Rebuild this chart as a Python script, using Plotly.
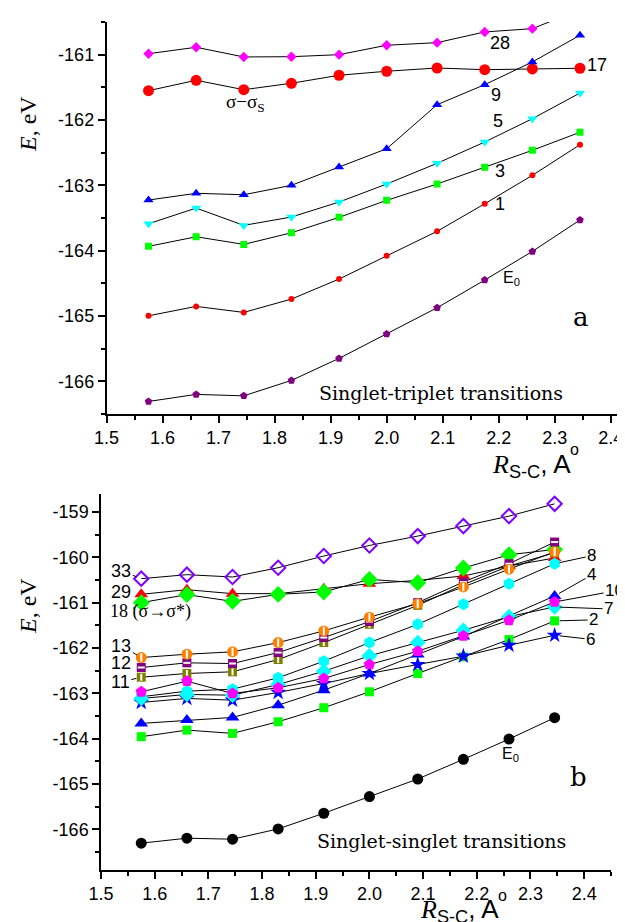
import plotly.graph_objects as go

W, H = 625, 922

# ---------------- data ----------------
R = [1.575, 1.66, 1.745, 1.83, 1.915, 2.0, 2.09, 2.175, 2.26, 2.345]

# panel a: singlet-triplet transitions
a_28 = [-160.985, -160.887, -161.035, -161.031, -161.0, -160.856, -160.816, -160.652, -160.602, -160.31]
a_17 = [-161.551, -161.392, -161.536, -161.438, -161.315, -161.254, -161.204, -161.23, -161.219, -161.208]
a_9 = [-163.225, -163.122, -163.144, -163.0, -162.72, -162.44, -161.766, -161.459, -161.112, -160.703]
a_5 = [-163.588, -163.348, -163.613, -163.485, -163.256, -162.98, -162.663, -162.337, -161.98, -161.587]
a_3 = [-163.934, -163.787, -163.904, -163.726, -163.49, -163.23, -162.98, -162.724, -162.464, -162.188]
a_1 = [-164.997, -164.853, -164.945, -164.741, -164.435, -164.078, -163.704, -163.282, -162.847, -162.378]
a_E0 = [-166.308, -166.2, -166.222, -165.986, -165.649, -165.277, -164.874, -164.45, -164.011, -163.531]

# panel b: singlet-singlet transitions
b_33 = [-160.469, -160.381, -160.432, -160.227, -159.969, -159.736, -159.529, -159.308, -159.088, -158.817]
b_29 = [-160.815, -160.712, -160.8, -160.8, -160.69, -160.58, -160.507, -160.41, -160.19, -160.013]
b_18 = [-160.998, -160.822, -160.97, -160.815, -160.762, -160.485, -160.558, -160.234, -159.941, -159.824]
b_13 = [-162.21, -162.137, -162.084, -161.88, -161.622, -161.318, -161.02, -160.652, -160.26, -159.875]
b_12 = [-162.43, -162.327, -162.342, -162.1, -161.769, -161.417, -160.998, -160.542, -160.139, -159.661]
b_11 = [-162.644, -162.562, -162.525, -162.254, -161.88, -161.476, -161.058, -160.602, -160.19, -159.897]
b_8 = [-163.076, -162.952, -162.908, -162.657, -162.291, -161.879, -161.476, -161.036, -160.58, -160.139]
b_4 = [-163.664, -163.591, -163.532, -163.261, -162.93, -162.562, -162.144, -161.747, -161.291, -160.851]
b_10 = [-162.966, -162.732, -163.003, -162.877, -162.673, -162.364, -162.071, -161.732, -161.388, -160.983]
b_7 = [-163.113, -163.025, -163.041, -162.805, -162.512, -162.173, -161.88, -161.608, -161.307, -161.093]
b_2 = [-163.957, -163.812, -163.884, -163.627, -163.318, -162.966, -162.562, -162.195, -161.813, -161.401]
b_6 = [-163.201, -163.113, -163.151, -162.981, -162.783, -162.562, -162.364, -162.181, -161.939, -161.719]
b_E0 = [-166.308, -166.198, -166.22, -165.993, -165.647, -165.279, -164.891, -164.457, -164.01, -163.538]

x_ticks = [1.5, 1.6, 1.7, 1.8, 1.9, 2.0, 2.1, 2.2, 2.3, 2.4]
x_ticktext = ["1.5", "1.6", "1.7", "1.8", "1.9", "2.0", "2.1", "2.2", "2.3", "2.4"]
a_yticks = [-166, -165, -164, -163, -162, -161]
b_yticks = [-166, -165, -164, -163, -162, -161, -160, -159]

# ---------------- helpers ----------------
def px(x):
    return x / W

def py(y):
    return 1 - y / H

SANS = "Liberation Sans"
SERIF = "Liberation Serif"
CENT = "DejaVu Serif"

fig = go.Figure()

def series(y, color, symbol, size, xa, ya, lw=0):
    fig.add_trace(go.Scatter(
        x=R, y=y, mode="lines+markers", xaxis=xa, yaxis=ya,
        line=dict(color="black", width=1),
        marker=dict(symbol=symbol, color=color, size=size,
                    line=dict(color=color, width=lw)),
        showlegend=False, hoverinfo="skip"))

def overlay(y, symbol, size, xa, ya, width=2):
    fig.add_trace(go.Scatter(
        x=R, y=y, mode="markers", xaxis=xa, yaxis=ya,
        marker=dict(symbol=symbol, size=size, color="white",
                    line=dict(color="white", width=width)),
        showlegend=False, hoverinfo="skip"))

# panel a
series(a_28, "#FF00FF", "diamond", 8, "x", "y")
series(a_17, "#FF0000", "circle", 11, "x", "y")
series(a_9, "#0000FF", "triangle-up", 9, "x", "y")
series(a_5, "#00FFFF", "triangle-down", 9, "x", "y")
series(a_3, "#00FF00", "square", 7, "x", "y")
series(a_1, "#FF0000", "circle", 6, "x", "y")
series(a_E0, "#800080", "pentagon", 8, "x", "y")

# panel b
series(b_33, "#8000FF", "diamond-open", 11, "x2", "y2", lw=2)
series(b_29, "#FF0000", "triangle-up", 12, "x2", "y2")
series(b_18, "#00FF00", "diamond", 13, "x2", "y2")
series(b_11, "#808000", "square", 9, "x2", "y2")
overlay(b_11, "line-ns", 5, "x2", "y2")
series(b_12, "#800080", "square", 9, "x2", "y2")
overlay(b_12, "line-ew", 5, "x2", "y2")
series(b_13, "#FF8000", "circle", 11, "x2", "y2")
overlay(b_13, "line-ns", 6, "x2", "y2")
series(b_8, "#00FFFF", "hexagon", 12, "x2", "y2")
series(b_2, "#00FF00", "square", 9, "x2", "y2")
series(b_6, "#0000FF", "star", 12, "x2", "y2")
series(b_4, "#0000FF", "triangle-up", 12, "x2", "y2")
series(b_7, "#00FFFF", "diamond", 12, "x2", "y2")
series(b_10, "#FF00FF", "pentagon", 12, "x2", "y2")
series(b_E0, "#000000", "circle", 11, "x2", "y2")

axis_common = dict(
    showline=True, linecolor="black", linewidth=1.5, mirror=False,
    ticks="outside", ticklen=7, tickwidth=1.5, tickcolor="black",
    showgrid=False, zeroline=False,
    tickfont=dict(family=SANS, size=18, color="black"),
    automargin=False,
)
minor_x = dict(dtick=0.05, ticklen=4, ticks="outside", tickcolor="black", tickwidth=1.5)
minor_y = dict(dtick=0.5, ticklen=4, ticks="outside", tickcolor="black", tickwidth=1.5)

fig.update_layout(
    width=W, height=H,
    margin=dict(l=0, r=0, t=0, b=0),
    paper_bgcolor="white", plot_bgcolor="white",
    showlegend=False,
    xaxis=dict(domain=[px(98.5), px(614)], range=[1.5, 2.42], anchor="y",
               tickvals=x_ticks, ticktext=x_ticktext, minor=minor_x, **axis_common),
    yaxis=dict(domain=[py(406), py(14)], range=[-166.5, -160.5], anchor="x",
               tickvals=a_yticks, ticktext=[str(v) for v in a_yticks],
               minor=minor_y, **axis_common),
    xaxis2=dict(domain=[px(93), px(603)], range=[1.5, 2.45], anchor="y2",
                tickvals=x_ticks, ticktext=x_ticktext, minor=minor_x, **axis_common),
    yaxis2=dict(domain=[py(862), py(486)], range=[-166.9, -158.6], anchor="x2",
                tickvals=b_yticks, ticktext=[str(v) for v in b_yticks],
                minor=minor_y, **axis_common),
)

ann = []

def text(x, y, s, family=SANS, size=18, angle=0):
    ann.append(dict(x=px(x), y=py(y), xref="paper", yref="paper", text=s,
                    showarrow=False, xanchor="center", yanchor="middle",
                    textangle=angle,
                    font=dict(family=family, size=size, color="black")))

def lead(xv, yv, ax, ay, s, xa, ya, size=17, family=SANS):
    ann.append(dict(x=xv, y=yv, xref=xa, yref=ya, text=s, showarrow=True,
                    ax=ax, ay=ay, arrowhead=0, arrowwidth=1, arrowcolor="black",
                    standoff=5, font=dict(family=family, size=size, color="black")))

# panel a labels
text(491.7, 35, "28")
text(589, 57.3, "17")
text(488.3, 87.3, "9")
text(490, 113.3, "5")
text(491.7, 163.3, "3")
text(491.7, 196, "1")
text(503, 270, "E<sub>0</sub>", size=16)
text(237, 95, "σ−σ<sub>S</sub>", family=SERIF, size=19)
text(573, 309, "a", family=CENT, size=26)
text(432.7, 385, "Singlet-triplet transitions", family=CENT, size=19)

# y titles
text(20, 116, "<i>E</i>, eV", family=SERIF, size=24, angle=-90)
text(20, 598, "<i>E</i>, eV", family=SERIF, size=24, angle=-90)

# x titles
xt = '<span style="font-family:Liberation Serif"><i>R</i></span><sub>S-C</sub>, A'
text(523, 457, xt, family=SANS, size=26)
text(566, 442, "o", family=SANS, size=16)
text(452, 902, xt, family=SANS, size=26)
text(494, 887, "o", family=SANS, size=16)

# panel b labels
lead(R[-1], b_8[-1], 37, -8, "8", "x2", "y2")
lead(R[-1], b_4[-1], 37, -21, "4", "x2", "y2")
lead(R[-1], b_10[-1], 60, -11, "10", "x2", "y2")
lead(R[-1], b_7[-1], 54, 2, "7", "x2", "y2")
lead(R[-1], b_2[-1], 39, -1, "2", "x2", "y2")
lead(R[-1], b_6[-1], 36, 4, "6", "x2", "y2")
lead(R[0], b_33[0], -20, -8, "33", "x2", "y2", size=18)
text(112.8, 583.8, "29", size=18)
text(142.5, 603.5, "18 (σ→σ*)", family=SERIF, size=18)
lead(R[0], b_13[0], -20, -12, "13", "x2", "y2", size=18)
text(112.5, 654.5, "12", size=18)
lead(R[0], b_11[0], -21, 5, "11", "x2", "y2", size=18)
text(502, 746, "E<sub>0</sub>", size=16)
text(570.5, 769, "b", family=CENT, size=26)
text(433, 832.5, "Singlet-singlet transitions", family=CENT, size=19)

fig.update_layout(annotations=ann)
fig.add_shape(type="line", xref="paper", yref="paper",
              x0=px(125), y0=py(600.5), x1=px(130), y1=py(596),
              line=dict(color="black", width=1))

fig.write_html("out.html")
